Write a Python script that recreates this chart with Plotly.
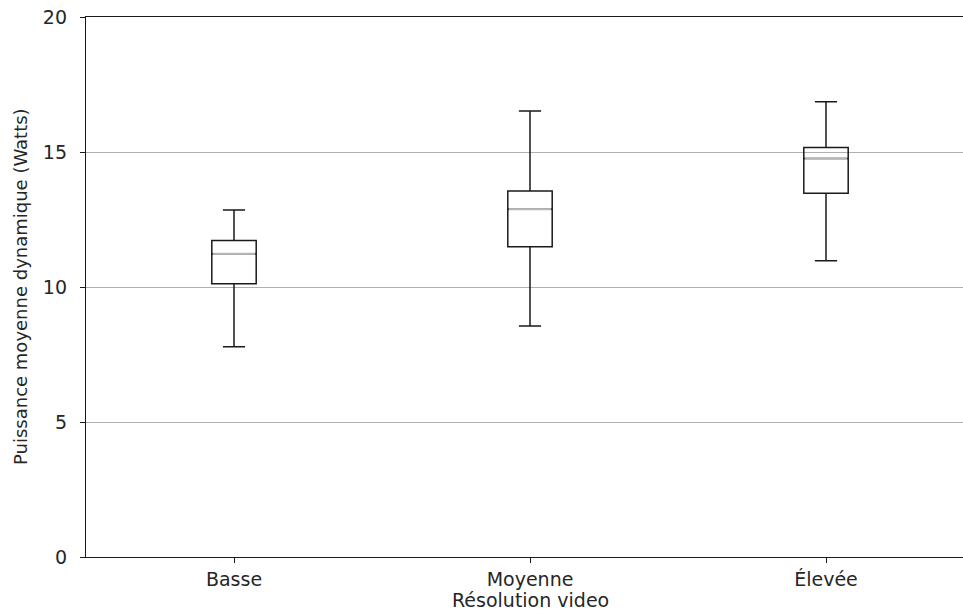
import plotly.graph_objects as go

categories = ["Basse", "Moyenne", "Élevée"]
positions = [1, 2, 3]
lower_whisker = [7.79, 8.56, 10.97]
q1_values = [10.12, 11.49, 13.47]
median_values = [11.23, 12.88, 14.76]
q3_values = [11.72, 13.56, 15.17]
upper_whisker = [12.85, 16.52, 16.86]
y_ticks = [0, 5, 10, 15, 20]

box_width = 0.15
font_family = "DejaVu Sans"
text_color = "#262626"

fig = go.Figure()
fig.add_trace(go.Box(
    x=positions, q1=q1_values, median=median_values, q3=q3_values,
    lowerfence=lower_whisker, upperfence=upper_whisker,
    width=box_width, whiskerwidth=0.5,
    line=dict(color="#1a1a1a", width=1.5),
    fillcolor="rgba(0,0,0,0)", boxpoints=False, showlegend=False,
    hoverinfo="skip",
))

# median lines (grey), drawn over the black box medians
mx, my = [], []
for p, m in zip(positions, median_values):
    mx += [p - box_width / 2 + 0.004, p + box_width / 2 - 0.004, None]
    my += [m, m, None]
fig.add_trace(go.Scatter(x=mx, y=my, mode="lines",
                         line=dict(color="#b8b8b8", width=2),
                         showlegend=False, hoverinfo="skip"))

fig.update_layout(
    width=963, height=611,
    margin=dict(l=86, r=0, t=17, b=54),
    plot_bgcolor="white", paper_bgcolor="white",
    font=dict(family=font_family, size=20, color=text_color),
    xaxis=dict(
        range=[0.5, 0.5 + (963 - 86) / 296], tickmode="array",
        tickvals=positions, ticktext=categories,
        showgrid=False, zeroline=False,
        showline=True, linecolor="#1a1a1a", linewidth=1.3, mirror=True,
        ticks="outside", ticklen=5, tickcolor="#1a1a1a", tickwidth=1,
        tickfont=dict(size=19),
    ),
    yaxis=dict(
        range=[0, 20], tickmode="array", tickvals=y_ticks,
        showgrid=True, gridcolor="#b0b0b0", gridwidth=1, zeroline=False,
        showline=True, linecolor="#1a1a1a", linewidth=1.3,
        ticks="outside", ticklen=5, tickcolor="#1a1a1a", tickwidth=1,
        ticklabelstandoff=9, tickfont=dict(size=19),
    ),
    annotations=[
        dict(text="Résolution video", xref="x", yref="paper", x=2, y=0,
             yshift=-43, xanchor="center", yanchor="middle", showarrow=False,
             font=dict(size=19, family=font_family, color=text_color)),
        dict(text="Puissance moyenne dynamique (Watts)", xref="paper", yref="y",
             x=0, y=10, xshift=-66, textangle=-90, xanchor="center",
             yanchor="middle", showarrow=False,
             font=dict(size=18, family=font_family, color=text_color)),
    ],
)

fig.write_html("out.html", config={"displayModeBar": False},
               post_script="document.body.style.margin='0';")
